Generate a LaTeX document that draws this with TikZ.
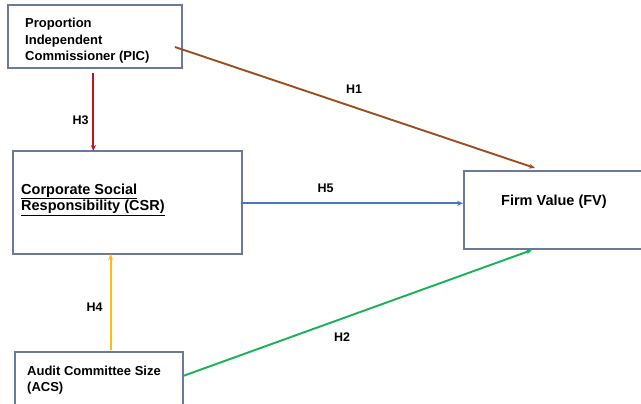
\documentclass[tikz,border=0pt]{standalone}
\usepackage{fontspec}
\setmainfont{Liberation Sans}
\usetikzlibrary{arrows.meta,calc}
\definecolor{boxc}{HTML}{6B7A99}
\definecolor{brownc}{HTML}{9C4F1E}
\definecolor{redc}{HTML}{C8101E}
\definecolor{bluec}{HTML}{4A74C9}
\definecolor{orangec}{HTML}{FFBB10}
\definecolor{greenc}{HTML}{18B256}
\begin{document}
\begin{tikzpicture}[x=1pt,y=-1pt,
  box/.style={draw=boxc,line width=1.2pt,inner sep=0pt,outer sep=0pt,rectangle},
  txt/.style={inner sep=0pt,anchor=base west,align=left},
  small/.style={font=\bfseries\fontsize{13}{16.3}\selectfont},
  big/.style={font=\bfseries\fontsize{14.5}{17}\selectfont},
  conn/.style={line width=1.9pt,-{Stealth[length=6pt,width=5pt]}},
  hyp/.style={inner sep=0pt,font=\bfseries\fontsize{12.5}{15}\selectfont}]
\useasboundingbox (0,0) rectangle (641,404);
\fill[white] (0,0) rectangle (641,404);
% boxes
\node[box,minimum width=174pt,minimum height=63pt] (pic) at (95,36.5) {};
\node[box,minimum width=229pt,minimum height=103pt] (csr) at (127.5,202.5) {};
\node[box,minimum width=168pt,minimum height=62pt] (acs) at (99,383) {};
\node[box,minimum width=184pt,minimum height=78pt] (fv) at (556,210) {};
% texts (base anchor = baseline of last line)
\node[txt,small] (pictxt) at (25,60.6) {Proportion\\Independent\\Commissioner (PIC)};
\node[txt,big] (csrtxt) at (21,211) {\underline{Corporate Social}\\\underline{Responsibility (CSR)}};
\node[txt,small] (acstxt) at (27,391.3) {Audit Committee Size\\(ACS)};
\node[txt,big] (fvtxt) at (501,205) {Firm Value (FV)};
% connector end points
\coordinate (h1s) at ($(pic.north east)+(-7,42)$);
\coordinate (h1e) at ($(fv.north west)+(71,-3)$);
\coordinate (h3s) at ($(pic.south west)+(85.3,4.7)$);
\coordinate (h3e) at ($(csr.north west)+(80.3,0)$);
\coordinate (h4s) at ($(acs.north west)+(95.7,-2)$);
\coordinate (h4e) at ($(csr.south west)+(97.7,0)$);
\coordinate (h5s) at ($(csr.north east)+(0,52.3)$);
\coordinate (h5e) at ($(fv.north west)+(-1,32.3)$);
\coordinate (h2s) at ($(acs.north east)+(0,24)$);
\coordinate (h2e) at ($(fv.south west)+(68,1)$);
% connectors
\draw[conn,brownc] (h1s) -- (h1e);
\draw[conn,redc] (h3s) -- (h3e);
\draw[conn,orangec] (h4s) -- (h4e);
\draw[conn,bluec] (h5s) -- (h5e);
\draw[conn,greenc] (h2s) -- (h2e);
% labels
\node[hyp] (l1) at (354,89.5) {H1};
\node[hyp] (l2) at (342,337.5) {H2};
\node[hyp] (l3) at (80.5,120) {H3};
\node[hyp] (l4) at (94.7,306.7) {H4};
\node[hyp] (l5) at (325.5,188) {H5};
\end{tikzpicture}
\end{document}
